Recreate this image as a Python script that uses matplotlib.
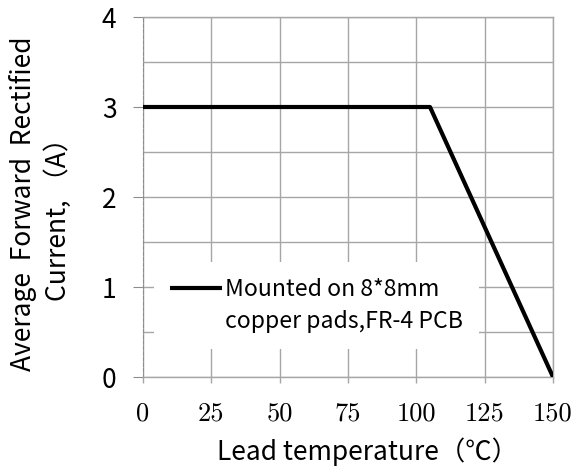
import numpy as np
import matplotlib.pyplot as plt
from matplotlib.lines import Line2D

# derating curve
temp = [0, 105, 150]
current = [3, 3, 0]
xticks = [0, 25, 50, 75, 100, 125, 150]
yticks = [0, 1, 2, 3, 4]

sans = ['Noto Sans CJK SC', 'DejaVu Sans']
grid_c = '#a6a6a6'

fig = plt.figure(figsize=(5.77, 4.74), dpi=100)
ax = fig.add_axes([143/577., 1-377/474., 410/577., 360/474.])

ax.plot(temp, current, color='black', lw=3.0, solid_capstyle='butt',
        label='Mounted on 8*8mm', zorder=3)

ax.set_xlim(0, 150)
ax.set_ylim(0, 4)
ax.set_xticks(xticks)
ax.set_yticks(yticks)
ax.set_yticks(np.arange(0.5, 4, 1.0), minor=True)
ax.tick_params(axis='y', which='minor', length=0)
ax.grid(True, which='both', color=grid_c, lw=1)
ax.set_axisbelow(True)

for s in ['top', 'right', 'bottom']:
    ax.spines[s].set_color(grid_c)
    ax.spines[s].set_linewidth(1)
ax.spines['left'].set_color('#8c8c8c')
ax.spines['left'].set_linestyle((0, (3, 2)))
ax.spines['left'].set_linewidth(0.8)

ax.tick_params(axis='x', which='major', direction='out', length=4.5,
               color=grid_c, width=1, pad=13)
ax.tick_params(axis='y', which='major', direction='out', length=7,
               color='#8c8c8c', width=0.8, pad=12)
ax.set_xticklabels([str(v) for v in xticks], family='cmr10', fontsize=19)
ax.set_yticklabels([str(v) for v in yticks], family=sans, fontsize=19)

# legend: handle on the first line only
blank = Line2D([], [], color='none')
leg = ax.legend(handles=[ax.lines[0], blank],
                labels=['Mounted on 8*8mm', 'copper pads,FR-4 PCB'],
                loc='upper left', bbox_to_anchor=(11/410., 115/360.),
                prop={'family': sans, 'size': 16.6}, frameon=True,
                fancybox=False, framealpha=1, edgecolor='none',
                handlelength=2.26, handletextpad=0.13, labelspacing=0.38,
                borderpad=0.7, borderaxespad=0)

fig.text(368/577., 1-452/474., 'Lead temperature（℃）', family=sans,
         fontsize=19, ha='center', va='center')
fig.text(23/577., 1-204/474., 'Average  Forward  Rectified', family=sans,
         fontsize=19, ha='center', va='center', rotation=90)
fig.text(58/577., 1-213/474., 'Current, （A）', family=sans,
         fontsize=19, ha='center', va='center', rotation=90)

plt.savefig('out.png', dpi=100)
plt.close('all')
